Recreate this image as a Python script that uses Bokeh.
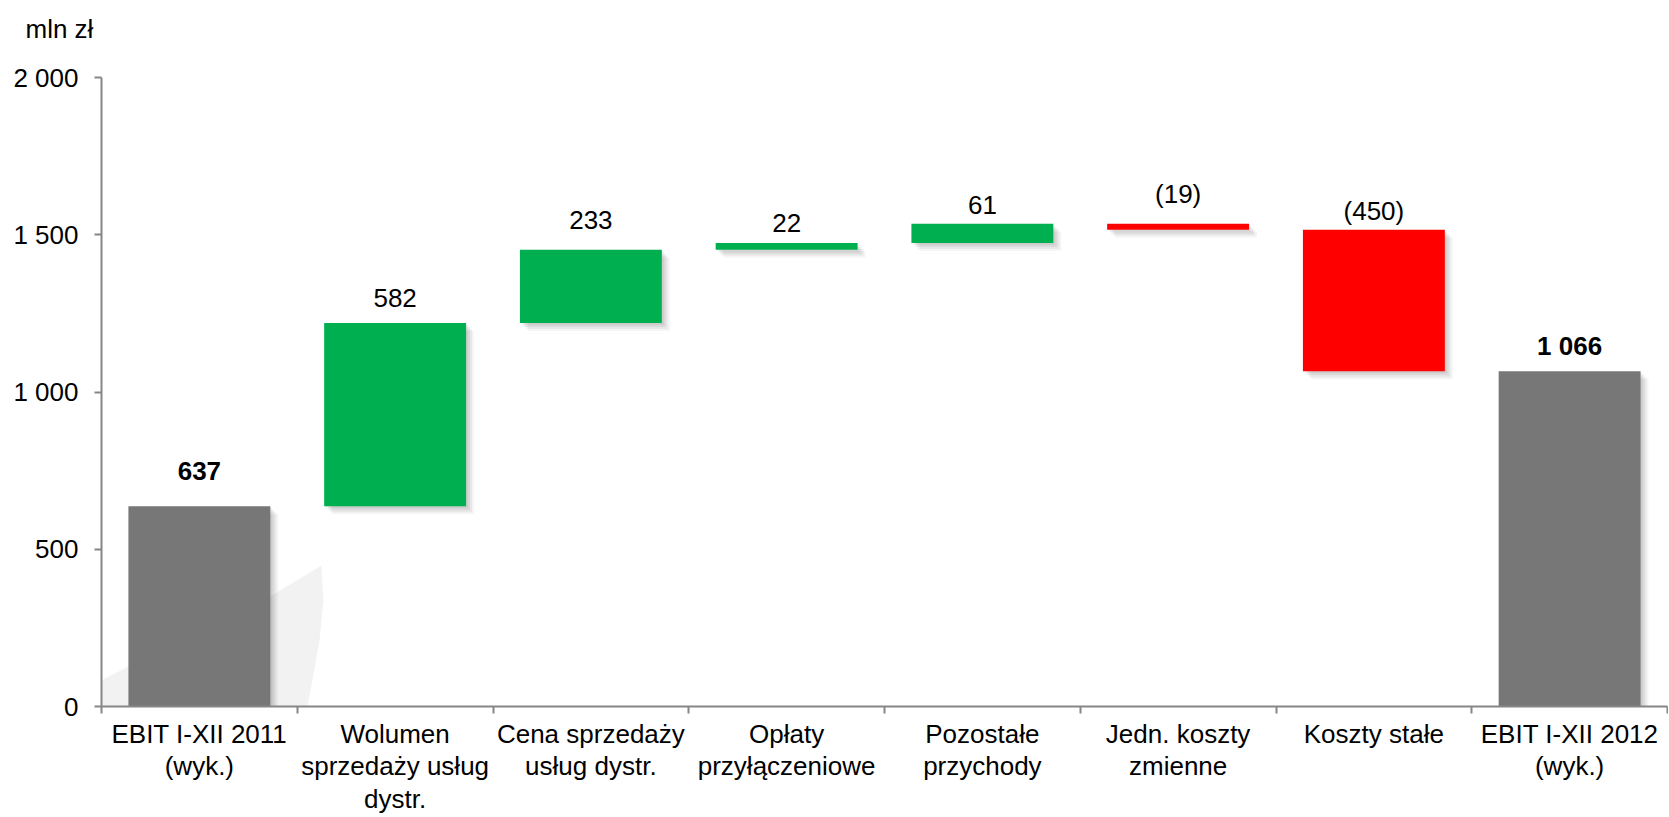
from bokeh.plotting import figure
from bokeh.models import Range1d, FixedTicker, PolyAnnotation, ColumnDataSource
from bokeh.core.properties import value, field
from bokeh.embed import file_html
from bokeh.resources import INLINE

# ---------------- data ----------------
categories = [
    "EBIT I-XII 2011\n(wyk.)",
    "Wolumen\nsprzedaży usług\ndystr.",
    "Cena sprzedaży\nusług dystr.",
    "Opłaty\nprzyłączeniowe",
    "Pozostałe\nprzychody",
    "Jedn. koszty\nzmienne",
    "Koszty stałe",
    "EBIT I-XII 2012\n(wyk.)",
]
changes = [637, 582, 233, 22, 61, -19, -450, 1066]
is_total = [True, False, False, False, False, False, False, True]
value_labels = ["637", "582", "233", "22", "61", "(19)", "(450)", "1 066"]
y_ticks = [0, 500, 1000, 1500, 2000]
y_tick_labels = ["0", "500", "1 000", "1 500", "2 000"]
unit_label = "mln zł"

# ---------------- styles ----------------
FONT = "Liberation Sans"
GREY, GREEN, RED = "#777777", "#00B050", "#FF0000"
AXIS_COLOR = "#868686"
label_offsets_px = [35, 25, 30, 20, 19, 30, 19, 25]

W, H = 1668, 816
B_LEFT, B_RIGHT, B_TOP, B_BOTTOM = 101, 1, 77, 107
EST_BOTTOM = 110  # expected real height of the x-axis panel
frame_w = W - B_LEFT - B_RIGHT
frame_h = H - B_TOP - EST_BOTTOM
n = len(categories)
px_x = frame_w / n
px_y = frame_h / (y_ticks[-1] - y_ticks[0])

# ---------------- waterfall geometry ----------------
bottoms, tops, colors = [], [], []
running = 0
for c, tot in zip(changes, is_total):
    if tot:
        b, t = 0, c
        running = c
        col = GREY
    else:
        b, t = running, running + c
        running += c
        col = GREEN if c >= 0 else RED
    bottoms.append(min(b, t))
    tops.append(max(b, t))
    colors.append(col)

xc = [i + 0.5 for i in range(n)]
BAR_W = 0.725

p = figure(width=W, height=H, output_backend="svg", toolbar_location=None,
           x_range=Range1d(0, n), y_range=Range1d(y_ticks[0], y_ticks[-1]),
           min_border_left=B_LEFT, min_border_right=B_RIGHT,
           min_border_top=B_TOP, min_border_bottom=B_BOTTOM,
           background_fill_color="white", border_fill_color="white")
p.xgrid.visible = False
p.ygrid.visible = False
p.outline_line_color = None

# unit label as the plot title (an empty second line lifts it towards the top edge)
p.title.text = unit_label + "\n"
p.title.align = "left"
p.title.vertical_align = "top"
p.title.offset = -76
p.title.standoff = 4
p.title.text_font = FONT
p.title.text_font_size = "26px"
p.title.text_font_style = "normal"
p.title.text_color = "black"

# ---------------- watermark swoosh (decoration, canvas pixels) ----------------
wm_px = [(0, 727), (67, 697), (134, 663), (201, 630), (268, 597), (321, 565),
         (323, 600), (319, 640), (310, 690), (300, 740), (292, 795),
         (150, 816), (0, 816)]
fb = B_TOP + frame_h
p.add_layout(PolyAnnotation(xs=[(px - B_LEFT) / px_x for px, _ in wm_px],
                            ys=[(fb - py) / px_y for _, py in wm_px],
                            fill_color="#f2f2f2", fill_alpha=1.0, line_color=None,
                            level="underlay"))

# shadows
for off, a in [(2, 0.06), (4, 0.06), (6, 0.05), (8, 0.04)]:
    p.vbar(x=[v + off / px_x for v in xc], bottom=[b - off / px_y for b in bottoms],
           top=[t - off / px_y for t in tops], width=BAR_W,
           fill_color="black", fill_alpha=a, line_color=None)

# bars
src = ColumnDataSource(dict(x=xc, bottom=bottoms, top=tops, color=colors))
p.vbar(x="x", bottom="bottom", top="top", width=BAR_W, source=src,
       fill_color="color", line_color=None)

# value labels
lsrc = ColumnDataSource(dict(
    x=xc, y=tops, text=value_labels,
    fstyle=["bold" if t else "normal" for t in is_total],
    yoff=[-o for o in label_offsets_px]))
p.text(x="x", y="y", text="text", source=lsrc, text_align="center",
       text_baseline="middle", y_offset=field("yoff"), text_font=value(FONT),
       text_font_size="26px", text_font_style=field("fstyle"), text_color="black")

# x axis
xa = p.xaxis[0]
xa.ticker = FixedTicker(ticks=xc, minor_ticks=list(range(n + 1)))
xa.major_label_overrides = {x: c for x, c in zip(xc, categories)}
xa.major_tick_line_color = None
xa.major_tick_out = 7
xa.major_tick_in = 0
xa.minor_tick_out = 7
xa.minor_tick_in = 0
xa.minor_tick_line_color = AXIS_COLOR
xa.minor_tick_line_width = 2
xa.axis_line_color = AXIS_COLOR
xa.axis_line_width = 2
xa.major_label_text_font = FONT
xa.major_label_text_font_size = "26px"
xa.major_label_text_color = "black"
xa.major_label_text_line_height = 1.085
xa.major_label_standoff = 5

# y axis
ya = p.yaxis[0]
ya.ticker = FixedTicker(ticks=y_ticks)
ya.major_label_overrides = {t: l for t, l in zip(y_ticks, y_tick_labels)}
ya.major_tick_out = 7
ya.major_tick_in = 0
ya.major_tick_line_color = AXIS_COLOR
ya.major_tick_line_width = 2
ya.minor_tick_line_color = None
ya.axis_line_color = AXIS_COLOR
ya.axis_line_width = 2
ya.major_label_text_font = FONT
ya.major_label_text_font_size = "26px"
ya.major_label_text_color = "black"
ya.major_label_standoff = 16

open("out.html", "w").write(file_html(p, INLINE))
